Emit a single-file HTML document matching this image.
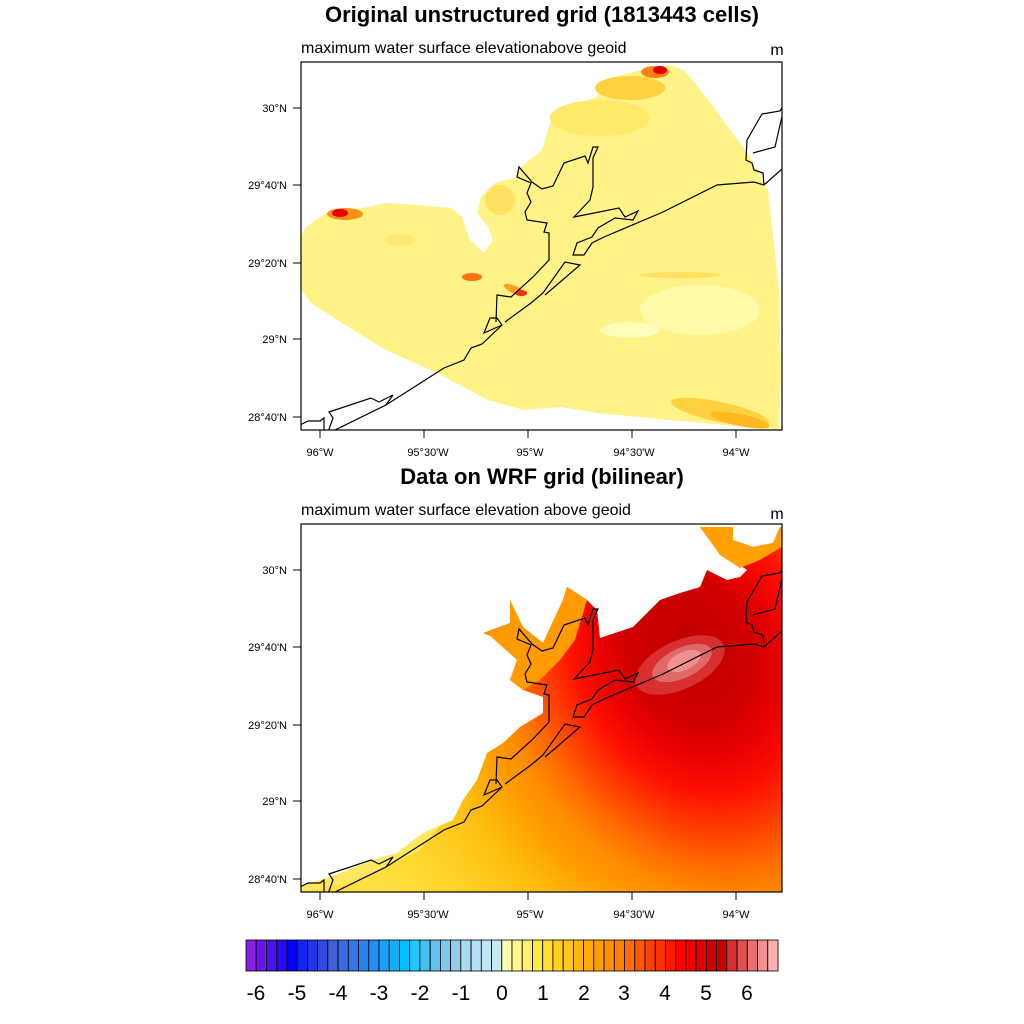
<!DOCTYPE html>
<html><head><meta charset="utf-8"><style>
html,body{margin:0;padding:0;background:#fff;}
svg{display:block;font-family:"Liberation Sans",sans-serif;}
</style></head><body>
<svg width="1024" height="1024" viewBox="0 0 1024 1024" xmlns="http://www.w3.org/2000/svg">
<defs>
<clipPath id="c1"><rect x="301" y="62" width="481" height="368"/></clipPath>
<clipPath id="c2"><rect x="301" y="524" width="481" height="368"/></clipPath>
<radialGradient id="rg" gradientUnits="userSpaceOnUse" cx="0" cy="0" r="1" gradientTransform="translate(690 650) rotate(-25) scale(380 500)">
<stop offset="0" stop-color="#c00000"/>
<stop offset="0.15" stop-color="#d00000"/>
<stop offset="0.22" stop-color="#e80000"/>
<stop offset="0.3" stop-color="#ff1000"/>
<stop offset="0.38" stop-color="#ff4000"/>
<stop offset="0.46" stop-color="#ff7000"/>
<stop offset="0.52" stop-color="#ff8c00"/>
<stop offset="0.6" stop-color="#ffa000"/>
<stop offset="0.7" stop-color="#ffbc10"/>
<stop offset="0.8" stop-color="#ffcc20"/>
<stop offset="0.95" stop-color="#ffdc38"/>
<stop offset="1" stop-color="#ffe040"/>
</radialGradient>
<g id="coast" fill="none" stroke="#000" stroke-width="1.2">
<polyline points="335,430 386,405 444,368 464,360 471,348 482,344 502,325 497,318 490,318 484,333 502,325"/>
<polyline points="496,322 497,295 511,297 533,277 549,260 549,233 544,232 547,223 527,220 525,212 531,202 527,193 531,183 517,177 519,167 532,182 542,189 553,186 564,163 585,156 588,163 593,147 598,147 593,158 593,187 590,200 574,217 619,208 625,217 638,211 633,220 615,218 598,228 592,237 577,243 573,255 584,255 592,243 604,237 663,212 717,185 754,182 764,185 783,168"/>
<polyline points="505,322 531,303 543,293 565,262 580,265 545,295"/>
<polyline points="296,427 308,421 320,421 324,418 324,432"/>
<polyline points="328,432 333,418 329,412 371,398 379,402 393,395 386,405"/>
<polyline points="786,102 780,111 762,114 747,140 746,160 752,163 754,170 763,173 764,185"/>
<polyline points="753,153 775,147 783,112"/>
</g>
</defs>

<text x="542" y="22" text-anchor="middle" font-size="22" font-weight="bold">Original unstructured grid (1813443 cells)</text>
<text x="301" y="53" font-size="16">maximum water surface elevationabove geoid</text>
<text x="777" y="55" font-size="16" text-anchor="middle">m</text>

<g clip-path="url(#c1)">
<polygon fill="#fff286" points="299,253 299,287 311,303 342,323 386,350 437,373 488,400 524,410 561,407 597,413 670,420 779,430 781,373 779,290 768,190 750,157 706,97 684,70 670,65 641,70 604,80 597,97 561,110 550,123 542,150 521,167 517,177 495,183 481,197 477,213 488,227 493,240 484,253 470,240 462,217 451,208 415,205 386,203 353,210 328,212 306,227 299,240"/>
<ellipse cx="700" cy="310" rx="60" ry="25" fill="#fffaa8"/>
<ellipse cx="630" cy="330" rx="30" ry="8" fill="#fffbb8"/>
<ellipse cx="600" cy="118" rx="50" ry="18" fill="#ffe968"/>
<ellipse cx="630" cy="88" rx="35" ry="12" fill="#ffd040"/>
<ellipse cx="655" cy="72" rx="14" ry="6" fill="#ff8010"/>
<ellipse cx="660" cy="70" rx="7" ry="4" fill="#e00000"/>
<ellipse cx="345" cy="214" rx="18" ry="6" fill="#ff9010"/>
<ellipse cx="340" cy="213" rx="8" ry="4" fill="#e00000"/>
<ellipse cx="500" cy="200" rx="15" ry="15" fill="#ffe060"/>
<ellipse cx="472" cy="277" rx="10" ry="4" fill="#ff7010"/>
<ellipse cx="515" cy="290" rx="12" ry="4" fill="#ffa020" transform="rotate(25 515 290)"/>
<ellipse cx="521" cy="293" rx="6" ry="3" fill="#f03000"/>
<ellipse cx="720" cy="412" rx="50" ry="10" fill="#ffd040" transform="rotate(12 720 412)"/>
<ellipse cx="740" cy="420" rx="30" ry="6" fill="#ffb820" transform="rotate(12 740 420)"/>
<ellipse cx="680" cy="275" rx="40" ry="3" fill="#ffe060"/>
<ellipse cx="400" cy="240" rx="15" ry="6" fill="#ffe870"/>
<use href="#coast"/>
</g>
<rect x="301" y="62" width="481" height="368" fill="none" stroke="#000" stroke-width="1.2"/>

<g stroke="#000" stroke-width="1">
<line x1="293" y1="108" x2="301" y2="108"/><line x1="293" y1="185" x2="301" y2="185"/><line x1="293" y1="263" x2="301" y2="263"/><line x1="293" y1="339" x2="301" y2="339"/><line x1="293" y1="417" x2="301" y2="417"/>
<line x1="320" y1="430" x2="320" y2="438"/><line x1="424" y1="430" x2="424" y2="438"/><line x1="528" y1="430" x2="528" y2="438"/><line x1="632" y1="430" x2="632" y2="438"/><line x1="736" y1="430" x2="736" y2="438"/>
</g>
<g font-size="11" text-anchor="end">
<text x="287" y="112">30°N</text><text x="287" y="189">29°40'N</text><text x="287" y="267">29°20'N</text><text x="287" y="343">29°N</text><text x="287" y="421">28°40'N</text>
</g>
<g font-size="11" text-anchor="middle">
<text x="320" y="456">96°W</text><text x="428" y="456">95°30'W</text><text x="530" y="456">95°W</text><text x="634" y="456">94°30'W</text><text x="736" y="456">94°W</text>
</g>

<text x="542" y="484" text-anchor="middle" font-size="22" font-weight="bold">Data on WRF grid (bilinear)</text>
<text x="301" y="515" font-size="16">maximum water surface elevation above geoid</text>
<text x="777" y="519" font-size="16" text-anchor="middle">m</text>

<g clip-path="url(#c2)">
<polygon fill="url(#rg)" points="301,886 330,877 373,860 397,853 423,833 453,820 463,800 477,780 487,753 503,743 520,727 543,713 543,697 523,690 510,680 517,660 500,640 483,633 510,623 510,600 523,627 543,643 563,600 567,587 587,600 597,610 600,638 633,627 660,600 680,593 700,587 707,570 727,580 740,577 747,570 717,550 700,527 733,527 733,540 753,547 773,543 780,527 790,527 790,900 295,900"/>
<polygon fill="#ffe860" points="301,886 330,877 373,860 397,853 423,833 440,826 420,850 380,870 340,885 301,892"/>
<polygon fill="#ff9a00" points="487,633 510,623 510,600 523,627 543,643 563,600 567,587 587,600 575,640 560,660 540,680 523,690 510,680 517,660"/>
<polygon fill="#ffa000" points="700,527 733,527 733,540 753,547 773,543 780,527 785,527 785,545 760,560 740,568 720,555"/>
<ellipse cx="680" cy="665" rx="48" ry="24" fill="#d83030" transform="rotate(-25 680 665)"/>
<ellipse cx="682" cy="663" rx="32" ry="15" fill="#e06868" transform="rotate(-25 682 663)"/>
<ellipse cx="684" cy="661" rx="18" ry="9" fill="#f09090" transform="rotate(-25 684 661)"/>
<g transform="translate(0,462)"><use href="#coast"/></g>
</g>
<rect x="301" y="524" width="481" height="368" fill="none" stroke="#000" stroke-width="1.2"/>

<g stroke="#000" stroke-width="1">
<line x1="293" y1="570" x2="301" y2="570"/><line x1="293" y1="647" x2="301" y2="647"/><line x1="293" y1="725" x2="301" y2="725"/><line x1="293" y1="801" x2="301" y2="801"/><line x1="293" y1="879" x2="301" y2="879"/>
<line x1="320" y1="892" x2="320" y2="900"/><line x1="424" y1="892" x2="424" y2="900"/><line x1="528" y1="892" x2="528" y2="900"/><line x1="632" y1="892" x2="632" y2="900"/><line x1="736" y1="892" x2="736" y2="900"/>
</g>
<g font-size="11" text-anchor="end">
<text x="287" y="574">30°N</text><text x="287" y="651">29°40'N</text><text x="287" y="729">29°20'N</text><text x="287" y="805">29°N</text><text x="287" y="883">28°40'N</text>
</g>
<g font-size="11" text-anchor="middle">
<text x="320" y="918">96°W</text><text x="428" y="918">95°30'W</text><text x="530" y="918">95°W</text><text x="634" y="918">94°30'W</text><text x="736" y="918">94°W</text>
</g>

<g stroke="#000" stroke-width="0.8">
<rect x="246.0" y="940" width="10.23" height="31" fill="#8a1ee8"/>
<rect x="256.2" y="940" width="10.23" height="31" fill="#6a14e8"/>
<rect x="266.5" y="940" width="10.23" height="31" fill="#4a10f0"/>
<rect x="276.7" y="940" width="10.23" height="31" fill="#2a08f8"/>
<rect x="286.9" y="940" width="10.23" height="31" fill="#0000ff"/>
<rect x="297.2" y="940" width="10.23" height="31" fill="#1424f0"/>
<rect x="307.4" y="940" width="10.23" height="31" fill="#2035e8"/>
<rect x="317.6" y="940" width="10.23" height="31" fill="#3048e0"/>
<rect x="327.8" y="940" width="10.23" height="31" fill="#4060d8"/>
<rect x="338.1" y="940" width="10.23" height="31" fill="#3a6ce0"/>
<rect x="348.3" y="940" width="10.23" height="31" fill="#3078e8"/>
<rect x="358.5" y="940" width="10.23" height="31" fill="#2884f0"/>
<rect x="368.8" y="940" width="10.23" height="31" fill="#2090f8"/>
<rect x="379.0" y="940" width="10.23" height="31" fill="#1aa0f8"/>
<rect x="389.2" y="940" width="10.23" height="31" fill="#10b0f8"/>
<rect x="399.5" y="940" width="10.23" height="31" fill="#00c0ff"/>
<rect x="409.7" y="940" width="10.23" height="31" fill="#20c8ff"/>
<rect x="419.9" y="940" width="10.23" height="31" fill="#40c0f0"/>
<rect x="430.2" y="940" width="10.23" height="31" fill="#60c0f0"/>
<rect x="440.4" y="940" width="10.23" height="31" fill="#80c8f0"/>
<rect x="450.6" y="940" width="10.23" height="31" fill="#90cce8"/>
<rect x="460.8" y="940" width="10.23" height="31" fill="#a8dcf0"/>
<rect x="471.1" y="940" width="10.23" height="31" fill="#b8e0f4"/>
<rect x="481.3" y="940" width="10.23" height="31" fill="#c0e4f4"/>
<rect x="491.5" y="940" width="10.23" height="31" fill="#c8e8f4"/>
<rect x="501.8" y="940" width="10.23" height="31" fill="#fffcb0"/>
<rect x="512.0" y="940" width="10.23" height="31" fill="#fff890"/>
<rect x="522.2" y="940" width="10.23" height="31" fill="#fff070"/>
<rect x="532.5" y="940" width="10.23" height="31" fill="#ffe840"/>
<rect x="542.7" y="940" width="10.23" height="31" fill="#ffdc30"/>
<rect x="552.9" y="940" width="10.23" height="31" fill="#ffd020"/>
<rect x="563.2" y="940" width="10.23" height="31" fill="#ffc818"/>
<rect x="573.4" y="940" width="10.23" height="31" fill="#ffb810"/>
<rect x="583.6" y="940" width="10.23" height="31" fill="#ffa808"/>
<rect x="593.8" y="940" width="10.23" height="31" fill="#ffa000"/>
<rect x="604.1" y="940" width="10.23" height="31" fill="#ff9000"/>
<rect x="614.3" y="940" width="10.23" height="31" fill="#ff8000"/>
<rect x="624.5" y="940" width="10.23" height="31" fill="#ff7000"/>
<rect x="634.8" y="940" width="10.23" height="31" fill="#ff5800"/>
<rect x="645.0" y="940" width="10.23" height="31" fill="#ff4000"/>
<rect x="655.2" y="940" width="10.23" height="31" fill="#ff3000"/>
<rect x="665.5" y="940" width="10.23" height="31" fill="#ff1800"/>
<rect x="675.7" y="940" width="10.23" height="31" fill="#ff0000"/>
<rect x="685.9" y="940" width="10.23" height="31" fill="#f00000"/>
<rect x="696.2" y="940" width="10.23" height="31" fill="#e00000"/>
<rect x="706.4" y="940" width="10.23" height="31" fill="#d00000"/>
<rect x="716.6" y="940" width="10.23" height="31" fill="#c80000"/>
<rect x="726.8" y="940" width="10.23" height="31" fill="#d83030"/>
<rect x="737.1" y="940" width="10.23" height="31" fill="#e05050"/>
<rect x="747.3" y="940" width="10.23" height="31" fill="#e87070"/>
<rect x="757.5" y="940" width="10.23" height="31" fill="#f09090"/>
<rect x="767.8" y="940" width="10.23" height="31" fill="#ffb0b0"/>
</g>
<g font-size="21" text-anchor="middle">
<text x="256" y="1000">-6</text><text x="297" y="1000">-5</text><text x="338" y="1000">-4</text><text x="379" y="1000">-3</text><text x="420" y="1000">-2</text><text x="461" y="1000">-1</text><text x="502" y="1000">0</text><text x="543" y="1000">1</text><text x="584" y="1000">2</text><text x="624" y="1000">3</text><text x="665" y="1000">4</text><text x="706" y="1000">5</text><text x="747" y="1000">6</text>
</g>
</svg>
</body></html>
